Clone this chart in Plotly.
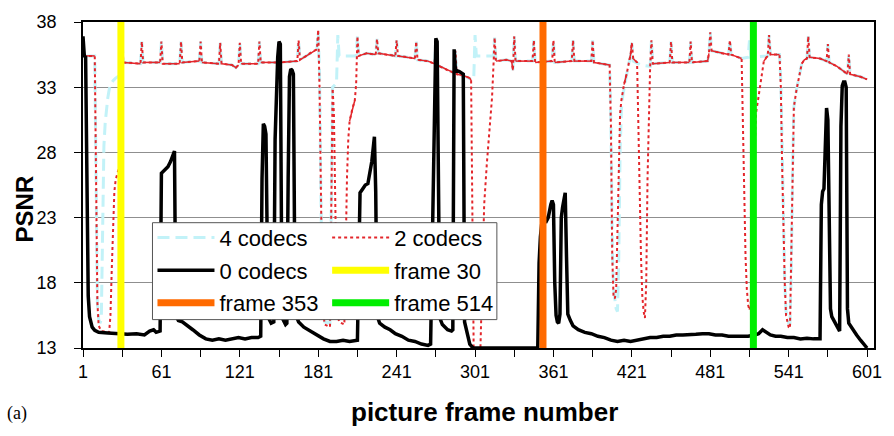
import plotly.graph_objects as go

FONT = "Arial, Liberation Sans, sans-serif"

# ---------------- data ----------------
x_tick_vals = [1, 61, 121, 181, 241, 301, 361, 421, 481, 541, 601]
y_tick_vals = [13, 18, 23, 28, 33, 38]

# 4 codecs: (frame, PSNR) vertices
codecs4 = [
    (1, 35.4), (10, 35.4), (11, 26), (12, 16.5), (13, 15.2), (14, 14.9), (15, 15.2), (16, 21),
    (17, 28.5), (18, 30.3), (19, 31.5), (20, 32.2), (21, 32.8), (22, 33.2), (24, 33.5), (26, 33.7),
    (29, 33.9), (30, 34.0), (31, 36.2), (32, 34.9), (45, 34.8), (46, 36.5), (47, 34.9), (60, 34.9),
    (61, 36.5), (62, 34.8), (75, 34.8), (76, 36.5), (77, 34.9), (90, 35.0), (91, 36.5), (92, 34.9),
    (105, 34.8), (106, 36.4), (107, 34.8), (115, 34.7), (118, 34.5), (120, 34.7), (121, 36.4),
    (122, 34.8), (135, 34.8), (136, 36.5), (137, 34.9), (150, 34.9), (151, 36.5), (152, 34.9),
    (165, 35.0), (166, 36.6), (167, 35.1), (172, 35.4), (176, 35.7), (180, 35.9), (181, 37.2),
    (182, 34), (183, 25), (184, 18), (185, 15.5), (186, 15.0), (190, 14.9), (191, 25), (192, 33.0),
    (195, 33.3), (196, 37.0), (197, 35.4), (210, 35.4), (211, 36.9), (212, 35.4), (218, 35.6),
    (225, 35.5), (226, 36.7), (227, 35.6), (235, 35.5), (240, 35.4), (241, 36.6), (242, 35.4),
    (250, 35.3), (255, 35.2), (256, 36.5), (257, 35.1), (265, 35.0), (270, 34.8), (271, 36.3),
    (272, 34.7), (280, 34.3), (285, 34.1), (286, 35.8), (287, 34.0), (292, 33.9), (297, 33.7),
    (298, 33.6), (300, 33.6), (301, 37.0), (302, 35.4), (315, 35.4), (316, 36.8), (317, 35.0),
    (325, 35.1), (329, 35.0), (330, 34.3), (331, 36.9), (332, 35.0), (345, 35.0), (346, 36.6),
    (347, 34.9), (360, 35.0), (361, 36.6), (362, 34.9), (375, 35.0), (376, 36.6), (377, 35.0),
    (390, 35.0), (391, 36.6), (392, 34.9), (404, 34.7), (405, 30), (406, 21), (407, 17.5),
    (409, 16.0), (410, 15.8), (411, 20), (412, 28), (413, 31.3), (414, 32.3), (416, 33.5),
    (418, 34.5), (420, 35.4), (421, 36.4), (422, 35.0), (428, 34.7), (435, 34.6), (436, 36.6),
    (437, 34.8), (450, 34.9), (451, 36.5), (452, 34.9), (465, 34.9), (466, 36.5), (467, 34.9),
    (479, 35.0), (480, 35.6), (481, 37.2), (482, 35.8), (490, 35.6), (495, 35.5), (496, 36.6),
    (497, 35.5), (505, 35.2), (510, 35.3), (511, 36.6), (512, 35.3), (525, 35.4), (526, 37.0),
    (527, 35.5), (534, 35.5), (535, 33.5), (536, 28), (537, 22), (538, 18), (539, 15.8),
    (540, 15.2), (541, 14.9), (542, 14.9), (543, 19), (544, 26.5), (545, 31.5), (547, 32.8),
    (549, 33.8), (551, 34.8), (553, 35.1), (555, 35.2), (556, 36.9), (557, 35.3), (565, 35.2),
    (570, 35.0), (571, 36.3), (572, 34.9), (578, 34.6), (582, 34.3), (585, 34.1), (586, 34.0),
    (587, 35.5), (588, 34.0), (592, 33.9), (596, 33.8), (601, 33.6),
]

# 2 codecs: (frame, PSNR) vertices
codecs2 = [
    (1, 35.4), (10, 35.4), (11, 26), (12, 16.5), (13, 14.7), (15, 14.3), (21, 14.2), (22, 15.5),
    (23, 19), (24, 23), (25, 25), (26, 25.9), (27, 26.3), (28, 26.7), (29, 27.0), (30, 28),
    (31, 36.2), (32, 34.9), (45, 34.8), (46, 36.5), (47, 34.9), (60, 34.9), (61, 36.5), (62, 34.8),
    (75, 34.8), (76, 36.5), (77, 34.9), (90, 35.0), (91, 36.5), (92, 34.9), (105, 34.8),
    (106, 36.4), (107, 34.8), (115, 34.7), (118, 34.5), (120, 34.7), (121, 36.4), (122, 34.8),
    (135, 34.8), (136, 36.5), (137, 34.9), (150, 34.9), (151, 36.5), (152, 34.9), (165, 35.0),
    (166, 36.6), (167, 35.1), (172, 35.4), (176, 35.7), (180, 35.9), (181, 37.4), (182, 33),
    (183, 24), (184, 18), (185, 15.5), (186, 14.8), (190, 14.6), (191, 24), (192, 32.9),
    (193, 31), (194, 24), (195, 18), (196, 15.5), (197, 15), (201, 14.8), (202, 21), (203, 26),
    (204, 29), (205, 30.4), (207, 31.3), (209, 32), (210, 33.2), (211, 36.9), (212, 35.4),
    (218, 35.6), (225, 35.5), (226, 36.7), (227, 35.6), (235, 35.5), (240, 35.4), (241, 36.6),
    (242, 35.4), (250, 35.3), (255, 35.2), (256, 36.5), (257, 35.1), (265, 35.0), (270, 34.8),
    (271, 36.3), (272, 34.7), (280, 34.3), (285, 34.1), (286, 35.8), (287, 34.0), (292, 33.9),
    (297, 33.7), (298, 33.5), (299, 22), (300, 12.5), (305, 12.5), (306, 16), (307, 20.5),
    (308, 24), (310, 27.1), (312, 29.8), (313, 30.6), (314, 32.2), (315, 34.4), (316, 36.8),
    (317, 35.0), (325, 35.1), (329, 35.0), (330, 34.3), (331, 36.9), (332, 35.0), (345, 35.0),
    (346, 36.6), (347, 34.9), (360, 35.0), (361, 36.6), (362, 34.9), (375, 35.0), (376, 36.6),
    (377, 35.0), (390, 35.0), (391, 36.6), (392, 34.9), (404, 34.7), (405, 30), (406, 20),
    (407, 16.9), (408, 16.8), (409, 17.5), (410, 22), (411, 28), (412, 31), (413, 32),
    (415, 33.2), (417, 34), (419, 35.1), (420, 35.5), (421, 36.4), (422, 35.2), (424, 35.0),
    (425, 34.9), (426, 30), (427, 24), (428, 20), (429, 17), (430, 15.8), (431, 15.3), (432, 18),
    (433, 26), (434, 32), (435, 34.6), (436, 36.6), (437, 34.8), (450, 34.9), (451, 36.5),
    (452, 34.9), (465, 34.9), (466, 36.5), (467, 34.9), (479, 35.0), (480, 35.6), (481, 37.2),
    (482, 35.8), (490, 35.6), (495, 35.5), (496, 36.6), (497, 35.5), (505, 35.2), (506, 30),
    (507, 24), (508, 20), (509, 17.5), (510, 16.3), (511, 15.9), (512, 16.5), (514, 25),
    (516, 31), (518, 32.3), (520, 33.5), (522, 35.0), (524, 35.3), (525, 35.4), (526, 37.0),
    (527, 35.5), (534, 35.5), (535, 33), (536, 27), (537, 22), (538, 18), (539, 15.5),
    (540, 14.9), (541, 14.6), (542, 14.5), (543, 20), (544, 27), (545, 31.5), (547, 32.8),
    (549, 33.8), (551, 34.8), (553, 35.1), (555, 35.2), (556, 36.9), (557, 35.3), (565, 35.2),
    (570, 35.0), (571, 36.3), (572, 34.9), (578, 34.6), (582, 34.3), (585, 34.1), (586, 34.0),
    (587, 35.5), (588, 34.0), (592, 33.9), (596, 33.8), (601, 33.6),
]

# 0 codecs: (frame, PSNR) vertices
codecs0 = [
    (1, 36.9), (2, 35.4), (3, 35.3), (4, 24), (5, 17), (6, 15.4), (7, 14.9), (8, 14.6),
    (10, 14.35), (13, 14.2), (20, 14.15), (28, 14.1), (35, 14.05), (42, 14.1), (48, 14.0),
    (52, 14.3), (55, 14.4), (57, 14.2), (60, 14.3), (61, 26.4), (63, 26.6), (66, 26.9),
    (68, 27.3), (71, 28.1), (72, 15.5), (74, 15.1), (77, 15.0), (80, 14.8), (85, 14.4),
    (90, 14.0), (95, 13.7), (100, 13.6), (105, 13.7), (110, 13.6), (115, 13.7), (120, 13.8),
    (125, 13.7), (130, 13.8), (135, 13.8), (137, 13.9), (138, 26), (139, 30.2), (140, 30.0),
    (141, 29.4), (142, 21), (143, 15.3), (145, 14.9), (147, 15.0), (148, 29), (149, 33),
    (150, 35.3), (151, 36.5), (152, 36.3), (153, 20), (154, 15.2), (156, 14.8), (157, 14.9),
    (158, 26), (159, 33.8), (160, 34.4), (161, 34.3), (162, 34.0), (163, 20), (164, 15.5),
    (166, 15.0), (170, 14.6), (175, 14.3), (180, 14.0), (185, 13.7), (190, 13.5), (195, 13.5),
    (200, 13.6), (205, 13.5), (211, 13.6), (212, 21), (213, 24.9), (215, 25.2), (217, 25.5),
    (219, 25.6), (221, 26.6), (222, 27.3), (224, 29.2), (225, 25), (226, 15.5), (228, 14.9),
    (232, 14.6), (236, 14.4), (240, 14.1), (245, 13.9), (250, 13.6), (255, 13.5), (260, 13.3),
    (265, 13.2), (267, 13.3), (268, 20), (269, 27.4), (270, 31), (271, 36.75), (272, 36.5),
    (273, 25), (274, 15.3), (276, 14.8), (280, 14.4), (283, 14.3), (284, 14.4), (285, 35.9),
    (286, 34.3), (289, 34.2), (292, 34.0), (293, 15), (294, 14.5), (295, 14.0), (296, 13.6),
    (297, 13.3), (299, 13.05), (300, 13.0), (349, 13.0), (350, 19.5), (351, 21.5), (352, 22.5),
    (354, 23.2), (355, 22.6), (357, 23.0), (358, 23.6), (359, 24.0), (360, 24.3), (361, 24.0),
    (362, 18), (363, 15.5), (364, 15.0), (365, 14.9), (366, 15.6), (367, 23), (368, 23.8),
    (369, 24.4), (370, 24.9), (371, 20), (372, 15.6), (374, 15.1), (376, 14.7), (380, 14.4),
    (385, 14.2), (390, 14.1), (395, 13.9), (400, 13.8), (405, 13.6), (410, 13.5), (415, 13.6),
    (420, 13.5), (425, 13.6), (430, 13.7), (435, 13.8), (440, 13.8), (445, 13.9), (450, 13.9),
    (455, 14.0), (460, 14.0), (465, 14.0), (470, 14.05), (475, 14.1), (480, 14.1), (485, 14.0),
    (490, 14.0), (495, 13.9), (500, 13.9), (505, 13.85), (510, 13.9), (515, 14.0), (518, 14.1),
    (521, 14.4), (524, 14.2), (527, 14.0), (531, 13.9), (535, 13.9), (540, 13.8), (545, 13.8),
    (550, 13.7), (555, 13.75), (560, 13.7), (565, 13.7), (566, 24), (567, 25), (568, 25.2),
    (569, 28), (570, 31.4), (571, 30.5), (572, 23), (573, 16), (574, 15.4), (576, 15.0),
    (578, 14.6), (580, 14.3), (581, 30), (582, 33.1), (583, 33.4), (584, 33.4), (585, 33.0),
    (586, 16), (587, 14.9), (590, 14.4), (593, 14.0), (596, 13.6), (599, 13.2), (601, 13.0),
]

marker_frames = [30, 353, 514]
marker_names = ["frame 30", "frame 353", "frame 514"]
marker_colors = ["#ffff00", "#ff6a00", "#00ee00"]
marker_legends = ["legend2", "legend", "legend2"]

Y_MIN, Y_MAX = 13, 38

f4, v4 = [list(t) for t in zip(*codecs4)]
f2, v2 = [list(t) for t in zip(*codecs2)]
f0, v0 = [list(t) for t in zip(*codecs0)]

# flat parts of the 2-codec curve render as a continuous thin line in the original
flat_x, flat_y = [], []
for i in range(len(f2) - 1):
    if abs(v2[i + 1] - v2[i]) < 1.0 and min(v2[i], v2[i + 1]) > 30:
        if not flat_x or flat_x[-1] != f2[i]:
            if flat_x:
                flat_x.append(None)
                flat_y.append(None)
            flat_x.append(f2[i])
            flat_y.append(v2[i])
        flat_x.append(f2[i + 1])
        flat_y.append(v2[i + 1])

RED = "#e3262b"
CYAN = "#c2f2f8"

fig = go.Figure()
fig.add_trace(go.Scatter(x=f4, y=v4, mode="lines", name="4 codecs", legend="legend",
                         legendgroup="g4", line=dict(color=CYAN, width=3, dash="12px,6px")))
fig.add_trace(go.Scatter(x=f2, y=v2, mode="lines", name="2 codecs", legend="legend2",
                         legendgroup="g2", line=dict(color=RED, width=2, dash="3px,3px")))
fig.add_trace(go.Scatter(x=flat_x, y=flat_y, mode="lines", showlegend=False, hoverinfo="skip",
                         legend="legend2", legendgroup="g2",
                         line=dict(color=RED, width=1.5)))
fig.add_trace(go.Scatter(x=f0, y=v0, mode="lines", name="0 codecs", legend="legend",
                         legendgroup="g0", line=dict(color="black", width=3.5)))
for fr, nm, col, lg in zip(marker_frames, marker_names, marker_colors, marker_legends):
    fig.add_trace(go.Scatter(x=[fr, fr], y=[Y_MIN, Y_MAX], mode="lines", name=nm, legend=lg,
                             legendgroup=nm, line=dict(color=col, width=7)))

# plot area: x 83..880, y 15..348 (px)
L, R, T, B = 83, 14, 15, 88
W, H = 894, 436
pw, ph = W - L - R, H - T - B


def px_x(px):
    return (px - L) / pw


def px_y(py):
    return (H - B - py) / ph


legend_common = dict(xanchor="left", yanchor="top", bgcolor="rgba(0,0,0,0)", borderwidth=0,
                     font=dict(family=FONT, size=22, color="black"), itemwidth=57,
                     orientation="v", tracegroupgap=1)

fig.update_layout(
    width=W, height=H,
    margin=dict(l=L, r=R, t=T, b=B),
    paper_bgcolor="white", plot_bgcolor="white",
    font=dict(family=FONT, color="black"),
    legend=dict(x=px_x(153), y=px_y(214), **legend_common),
    legend2=dict(x=px_x(329), y=px_y(214), **legend_common),
    xaxis=dict(range=[1, 606.3], tickmode="array", tickvals=x_tick_vals,
               ticks="outside", ticklen=7, tickcolor="black", tickwidth=1,
               minor=dict(dtick=30, tick0=1, ticks="outside", ticklen=7, tickcolor="black",
                          showgrid=False),
               showgrid=False, zeroline=False, showline=True, linecolor="black", linewidth=1.5,
               mirror=True, tickfont=dict(family=FONT, size=18, color="black")),
    yaxis=dict(range=[Y_MIN, Y_MAX], tickmode="array", tickvals=y_tick_vals,
               ticks="outside", ticklen=7, tickcolor="black", tickwidth=1,
               showgrid=True, gridcolor="#8f8f8f", gridwidth=1, zeroline=False,
               showline=True, linecolor="black", linewidth=1.5, mirror=True,
               ticklabelstandoff=14, tickfont=dict(family=FONT, size=18, color="black")),
    shapes=[dict(type="rect", xref="paper", yref="paper", layer="above",
                 x0=px_x(153), x1=px_x(500), y0=px_y(319), y1=px_y(220),
                 fillcolor="white", line=dict(color="#555555", width=1))],
    annotations=[
        dict(text="<b>PSNR</b>", xref="paper", yref="paper", x=px_x(25), y=px_y(206),
             xanchor="center", yanchor="middle", textangle=-90, showarrow=False,
             font=dict(family=FONT, size=24, color="black")),
        dict(text="<b>picture frame number</b>", xref="paper", yref="paper", x=px_x(488),
             y=px_y(413), xanchor="center", yanchor="middle", showarrow=False,
             font=dict(family=FONT, size=26, color="black")),
        dict(text="(a)", xref="paper", yref="paper", x=px_x(4), y=px_y(415),
             xanchor="left", yanchor="middle", showarrow=False,
             font=dict(family="Liberation Serif, Times New Roman, serif", size=18, color="black")),
    ],
)

fig.write_html("out.html")
